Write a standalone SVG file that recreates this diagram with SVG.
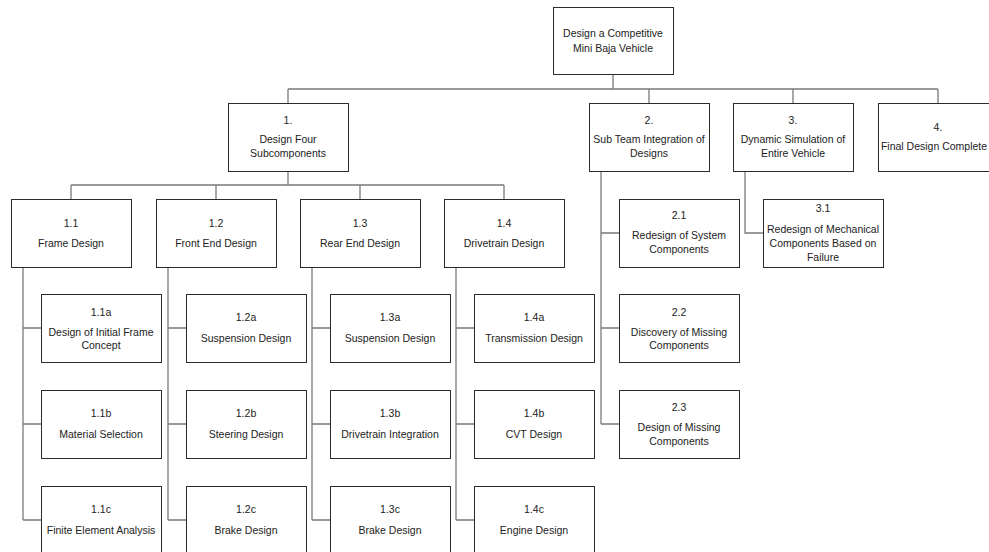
<svg xmlns="http://www.w3.org/2000/svg" width="989" height="552" viewBox="0 0 989 552">
<style>
.b{fill:#fff;stroke:#2b2b2b;stroke-width:1}
.t{font-family:"Liberation Sans",Arial,sans-serif;font-size:10.5px;fill:#222;text-anchor:middle}
.c{fill:none;stroke:#7a7a7a;stroke-width:1.3}
</style>
<rect width="989" height="552" fill="#fff"/>
<g id="connectors" class="c">
<path d="M613 74V89M288 89H938M288 89V103M649 89V103M793 89V103M938 89V103"/>
<path d="M288 171V185M71 185H504M71 185V199M216 185V199M360 185V199M504 185V199"/>
<path d="M23 267V520M23 328H41M23 424H41M23 520H41"/>
<path d="M168 267V520M168 328H186M168 424H186M168 520H186"/>
<path d="M312 267V520M312 328H330M312 424H330M312 520H330"/>
<path d="M456 267V520M456 328H474M456 424H474M456 520H474"/>
<path d="M601 171V424M601 233H619M601 328H619M601 424H619"/>
<path d="M745 171V233H763"/>
</g>
<g id="root"><rect class="b" x="553.5" y="7.5" width="120" height="67"/><text class="t" x="613" y="37">Design a Competitive</text><text class="t" x="613" y="52">Mini Baja Vehicle</text></g>
<g id="n1"><rect class="b" x="228.5" y="103.5" width="120" height="68"/><text class="t" x="288" y="124">1.</text><text class="t" x="288" y="143">Design Four</text><text class="t" x="288" y="157">Subcomponents</text></g>
<g id="n2"><rect class="b" x="589.5" y="103.5" width="120" height="68"/><text class="t" x="649" y="124">2.</text><text class="t" x="649" y="143">Sub Team Integration of</text><text class="t" x="649" y="157">Designs</text></g>
<g id="n3"><rect class="b" x="733.5" y="103.5" width="120" height="68"/><text class="t" x="793" y="124">3.</text><text class="t" x="793" y="143">Dynamic Simulation of</text><text class="t" x="793" y="157">Entire Vehicle</text></g>
<g id="n4"><rect class="b" x="878.5" y="103.5" width="120" height="68"/><text class="t" x="938" y="131">4.</text><text class="t" x="934" y="150">Final Design Complete</text></g>
<g id="n1_1"><rect class="b" x="11.5" y="199.5" width="120" height="68"/><text class="t" x="71" y="227">1.1</text><text class="t" x="71" y="247">Frame Design</text></g>
<g id="n1_2"><rect class="b" x="156.5" y="199.5" width="120" height="68"/><text class="t" x="216" y="227">1.2</text><text class="t" x="216" y="247">Front End Design</text></g>
<g id="n1_3"><rect class="b" x="300.5" y="199.5" width="120" height="68"/><text class="t" x="360" y="227">1.3</text><text class="t" x="360" y="247">Rear End Design</text></g>
<g id="n1_4"><rect class="b" x="444.5" y="199.5" width="120" height="68"/><text class="t" x="504" y="227">1.4</text><text class="t" x="504" y="247">Drivetrain Design</text></g>
<g id="n1_1a"><rect class="b" x="41.5" y="294.5" width="120" height="68"/><text class="t" x="101" y="316">1.1a</text><text class="t" x="101" y="336">Design of Initial Frame</text><text class="t" x="101" y="349">Concept</text></g>
<g id="n1_1b"><rect class="b" x="41.5" y="390.5" width="120" height="68"/><text class="t" x="101" y="417">1.1b</text><text class="t" x="101" y="438">Material Selection</text></g>
<g id="n1_1c"><rect class="b" x="41.5" y="486.5" width="120" height="68"/><text class="t" x="101" y="513">1.1c</text><text class="t" x="101" y="534">Finite Element Analysis</text></g>
<g id="n1_2a"><rect class="b" x="186.5" y="294.5" width="120" height="68"/><text class="t" x="246" y="321">1.2a</text><text class="t" x="246" y="342">Suspension Design</text></g>
<g id="n1_2b"><rect class="b" x="186.5" y="390.5" width="120" height="68"/><text class="t" x="246" y="417">1.2b</text><text class="t" x="246" y="438">Steering Design</text></g>
<g id="n1_2c"><rect class="b" x="186.5" y="486.5" width="120" height="68"/><text class="t" x="246" y="513">1.2c</text><text class="t" x="246" y="534">Brake Design</text></g>
<g id="n1_3a"><rect class="b" x="330.5" y="294.5" width="120" height="68"/><text class="t" x="390" y="321">1.3a</text><text class="t" x="390" y="342">Suspension Design</text></g>
<g id="n1_3b"><rect class="b" x="330.5" y="390.5" width="120" height="68"/><text class="t" x="390" y="417">1.3b</text><text class="t" x="390" y="438">Drivetrain Integration</text></g>
<g id="n1_3c"><rect class="b" x="330.5" y="486.5" width="120" height="68"/><text class="t" x="390" y="513">1.3c</text><text class="t" x="390" y="534">Brake Design</text></g>
<g id="n1_4a"><rect class="b" x="474.5" y="294.5" width="120" height="68"/><text class="t" x="534" y="321">1.4a</text><text class="t" x="534" y="342">Transmission Design</text></g>
<g id="n1_4b"><rect class="b" x="474.5" y="390.5" width="120" height="68"/><text class="t" x="534" y="417">1.4b</text><text class="t" x="534" y="438">CVT Design</text></g>
<g id="n1_4c"><rect class="b" x="474.5" y="486.5" width="120" height="68"/><text class="t" x="534" y="513">1.4c</text><text class="t" x="534" y="534">Engine Design</text></g>
<g id="n2_1"><rect class="b" x="619.5" y="199.5" width="120" height="68"/><text class="t" x="679" y="219">2.1</text><text class="t" x="679" y="239">Redesign of System</text><text class="t" x="679" y="253">Components</text></g>
<g id="n2_2"><rect class="b" x="619.5" y="294.5" width="120" height="68"/><text class="t" x="679" y="316">2.2</text><text class="t" x="679" y="336">Discovery of Missing</text><text class="t" x="679" y="349">Components</text></g>
<g id="n2_3"><rect class="b" x="619.5" y="390.5" width="120" height="68"/><text class="t" x="679" y="411">2.3</text><text class="t" x="679" y="431">Design of Missing</text><text class="t" x="679" y="445">Components</text></g>
<g id="n3_1"><rect class="b" x="763.5" y="199.5" width="120" height="68"/><text class="t" x="823" y="212">3.1</text><text class="t" x="823" y="233">Redesign of Mechanical</text><text class="t" x="823" y="247">Components Based on</text><text class="t" x="823" y="261">Failure</text></g>
</svg>
